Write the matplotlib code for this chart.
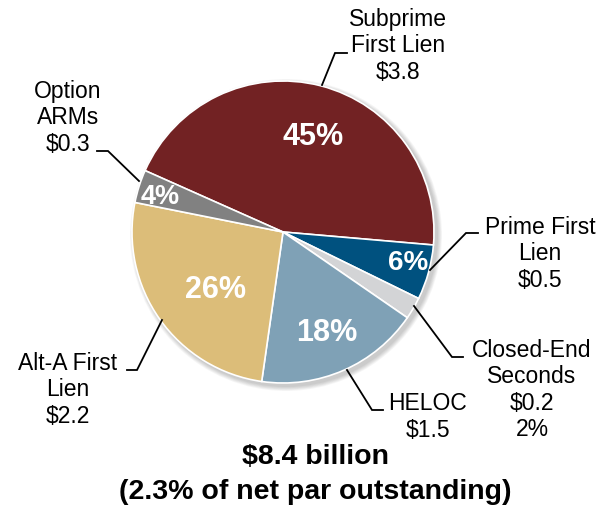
import matplotlib.pyplot as plt
from matplotlib.patches import Circle

plt.rcParams['font.family'] = ['Liberation Sans', 'DejaVu Sans']

# exposure by collateral type, $ billions
categories = ['Subprime\nFirst Lien', 'Prime First\nLien', 'Closed-End\nSeconds',
              'HELOC', 'Alt-A First\nLien', 'Option\nARMs']
values = [3.8, 0.5, 0.2, 1.5, 2.2, 0.3]
colors = ['#722223', '#00517f', '#d3d4d6', '#7fa1b6', '#dcbd79', '#818181']
total_label = '$8.4 billion'
share_label = '(2.3% of net par outstanding)'

total = sum(values)
pcts = [v / total * 100 for v in values]

fig = plt.figure(figsize=(6, 5.08), dpi=100)
ax = fig.add_axes([0, 0, 1, 1])

cx, cy, r = 283, 276, 151

# soft drop shadow behind the pie
for i in range(6):
    ax.add_patch(Circle((cx + 3, cy - 3), r + 1 + i * 0.8, color='black',
                        alpha=0.035, lw=0, zorder=0))

wedges, _ = ax.pie(values, colors=colors, startangle=156, counterclock=False,
                   center=(cx, cy), radius=r, frame=True,
                   wedgeprops=dict(edgecolor='white', linewidth=1.2))
ax.set_xlim(0, 600)
ax.set_ylim(0, 508)
ax.set_aspect('equal')
ax.axis('off')

# percentage labels inside the slices
inside = {0: (313, 371, 22), 1: (408, 245, 20), 3: (327, 175, 22),
          4: (215, 218, 22), 5: (160, 311, 19.5)}
for i, (x, y, fs) in inside.items():
    ax.text(x, y, f'{pcts[i]:.0f}%', color='white', fontsize=fs,
            fontweight='bold', ha='center', va='center')

# callout labels with elbow leader lines
callouts = [
    (0, (398, 462), [(322, 423), (335, 455), (347, 455)]),
    (1, (540, 254), [(430, 238), (466, 275), (478, 275)]),
    (2, (532, 118), [(414, 202), (452, 151), (463, 151)]),
    (3, (428, 91), [(347, 138), (372, 98), (383, 98)]),
    (4, (68, 118), [(162, 188), (137, 138), (127, 138)]),
    (5, (68, 390), [(139, 327), (108, 357), (97, 357)]),
]
for i, (x, y), pts in callouts:
    text = f'{categories[i]}\n${values[i]:.1f}'
    if i == 2:
        text += f'\n{pcts[i]:.0f}%'
    ax.text(x, y, text, fontsize=16.5, ha='center', va='center',
            linespacing=1.17)
    xs, ys = zip(*pts)
    ax.plot(xs, ys, color='black', lw=1.3, solid_joinstyle='miter')

ax.text(316, 51, total_label, fontsize=20.5, fontweight='bold',
        ha='center', va='center')
ax.text(315, 16, share_label, fontsize=20.5, fontweight='bold',
        ha='center', va='center')

fig.savefig('out.png', dpi=100)
